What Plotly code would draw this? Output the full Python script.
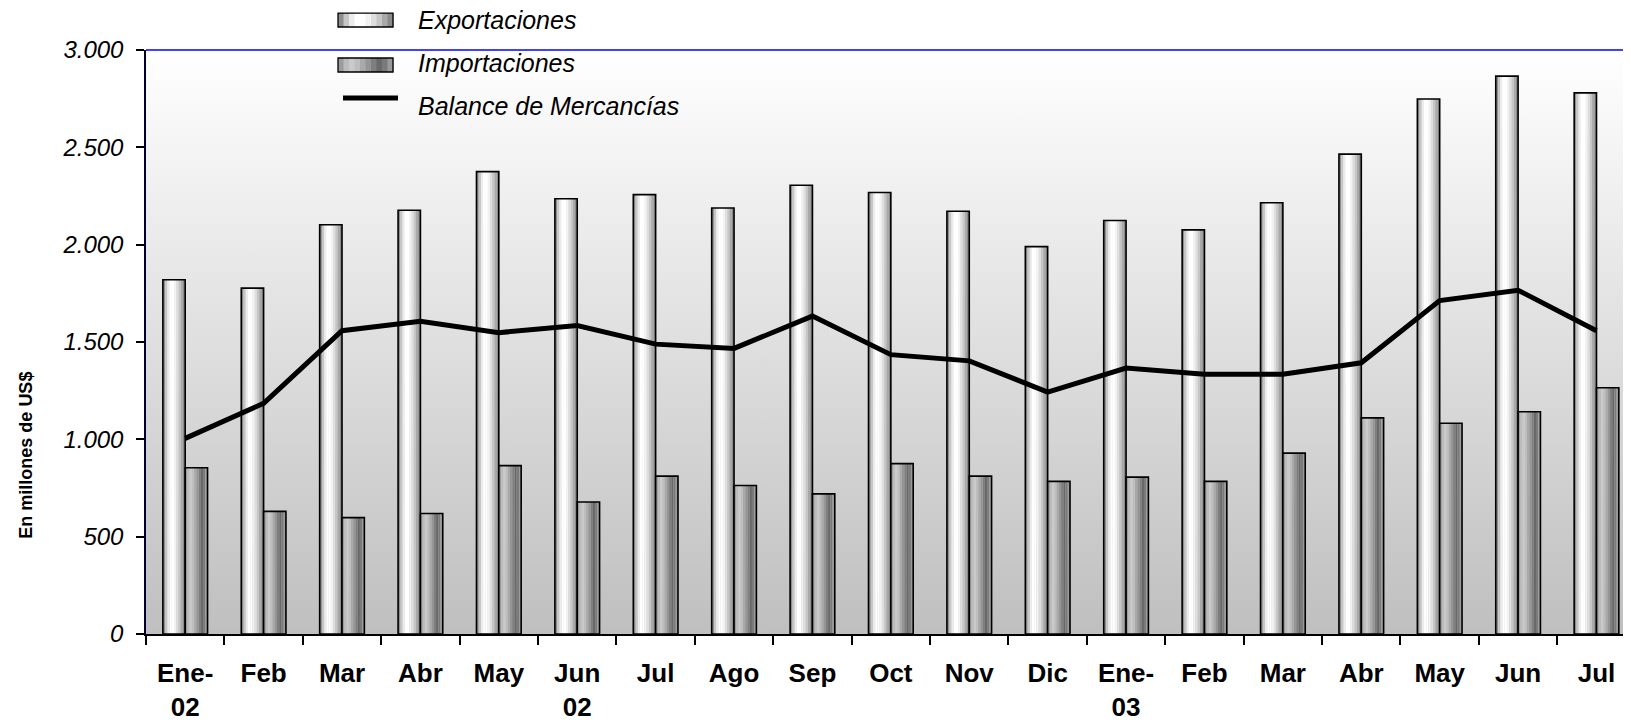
import base64

import plotly.graph_objects as go

# ---------------------------------------------------------------
# Data (millones de US$)
# ---------------------------------------------------------------
month_labels = [
    "Ene-<br>02", "Feb", "Mar", "Abr", "May", "Jun<br>02", "Jul", "Ago", "Sep",
    "Oct", "Nov", "Dic", "Ene-<br>03", "Feb", "Mar", "Abr", "May", "Jun", "Jul",
]
exportaciones = [
    1820, 1777, 2102, 2177, 2375, 2236, 2257, 2188, 2305, 2268,
    2172, 1990, 2124, 2076, 2215, 2465, 2748, 2866, 2780,
]
importaciones = [
    854, 630, 598, 619, 865, 678, 811, 763, 720, 875,
    811, 784, 806, 784, 929, 1110, 1083, 1142, 1265,
]
balance = [
    1005, 1185, 1558, 1606, 1548, 1585, 1489, 1467, 1633, 1435,
    1403, 1243, 1366, 1334, 1334, 1393, 1713, 1766, 1558,
]
series_names = ["Exportaciones", "Importaciones", "Balance de Mercancías"]

x_pos = list(range(len(month_labels)))

# ---------------------------------------------------------------
# Style / geometry (page pixels; the html body adds an 8px margin)
# ---------------------------------------------------------------
FONT = "Liberation Sans, Arial, sans-serif"
PAGE_W, PAGE_H, OFF = 1631, 720, 8
W, H = PAGE_W - OFF, PAGE_H - OFF
PLOT_L, PLOT_T, PLOT_B = 146, 50, 634.5
M_L, M_R, M_T, M_B = PLOT_L - OFF, 0, PLOT_T - OFF, PAGE_H - PLOT_B
BAR_W = 0.285

# cylinder-like shading, left -> right
exp_shades = ["#8e8e8e", "#c6c6c6", "#ececec", "#ffffff", "#ffffff",
              "#f2f2f2", "#dedede", "#c6c6c6", "#a9a9a9", "#8a8a8a"]
imp_shades = ["#9c9c9c", "#bcbcbc", "#cacaca", "#bebebe", "#a9a9a9",
              "#959595", "#7e7e7e", "#696969", "#7a7a7a", "#9a9a9a"]


def px_x(p):
    """page pixel -> paper x"""
    return (p - PLOT_L) / (PAGE_W - PLOT_L)


def px_y(p):
    """page pixel -> paper y"""
    return (PLOT_B - p) / (PLOT_B - PLOT_T)


def add_shaded_bars(fig, values, offset, shades):
    """Stack narrow strips to fake a cylinder gradient, then outline"""
    n = len(shades)
    w = BAR_W / n
    for k, c in enumerate(shades):
        fig.add_trace(
            go.Bar(
                x=x_pos, y=values, offset=offset + k * w, width=w * 1.02,
                marker=dict(color=c, line=dict(width=0)),
                showlegend=False, hoverinfo="skip",
            )
        )
    fig.add_trace(
        go.Bar(
            x=x_pos, y=values, offset=offset, width=BAR_W,
            marker=dict(color="rgba(0,0,0,0)", line=dict(color="black", width=1.6)),
            showlegend=False, hoverinfo="skip",
        )
    )


def swatch_shapes(x0, x1, y0, y1, shades):
    """Gradient legend swatch built from thin rects + outline"""
    out = []
    n = len(shades)
    step = (x1 - x0) / n
    for k, c in enumerate(shades):
        out.append(dict(type="rect", xref="paper", yref="paper",
                        x0=px_x(x0 + k * step), x1=px_x(x0 + (k + 1) * step + 0.5),
                        y0=px_y(y1), y1=px_y(y0), fillcolor=c, line=dict(width=0)))
    out.append(dict(type="rect", xref="paper", yref="paper",
                    x0=px_x(x0), x1=px_x(x1), y0=px_y(y1), y1=px_y(y0),
                    line=dict(color="black", width=1.3)))
    return out


fig = go.Figure()
add_shaded_bars(fig, exportaciones, -BAR_W, exp_shades)
add_shaded_bars(fig, importaciones, 0.0, imp_shades)

fig.add_trace(
    go.Scatter(
        x=x_pos, y=balance, mode="lines", name=series_names[2],
        line=dict(color="black", width=5),
        showlegend=False,
    )
)

# gradient plot background
svg = (
    '<svg xmlns="http://www.w3.org/2000/svg" viewBox="0 0 10 100" '
    'preserveAspectRatio="none" width="10" height="100">'
    '<defs><linearGradient id="g" x1="0" y1="0" x2="0" y2="1">'
    '<stop offset="0" stop-color="#ffffff"/>'
    '<stop offset="1" stop-color="#bfbfbf"/>'
    '</linearGradient></defs>'
    '<rect width="10" height="100" fill="url(#g)"/></svg>'
)
bg_src = "data:image/svg+xml;base64," + base64.b64encode(svg.encode()).decode()

# top border in blue (paper ref so it isn't clipped by the plot area)
shapes = [dict(type="line", xref="paper", yref="paper", x0=0, x1=1, y0=1, y1=1,
               line=dict(color="#4040ff", width=2))]
# hand-built legend (wide gradient swatches like the original)
shapes += swatch_shapes(338, 393, 13, 27, exp_shades)
shapes += swatch_shapes(338, 393, 58, 72, imp_shades)
shapes.append(dict(type="line", xref="paper", yref="paper",
                   x0=px_x(343), x1=px_x(398), y0=px_y(98), y1=px_y(98),
                   line=dict(color="black", width=5)))

annotations = [
    dict(text=name, xref="paper", yref="paper", x=px_x(416), y=px_y(cy),
         xanchor="left", yanchor="middle", showarrow=False,
         font=dict(family=FONT, size=25, style="italic", color="black"))
    for name, cy in zip(series_names, [20, 63, 106])
]
annotations.append(
    dict(text="En millones de US$", xref="paper", yref="paper",
         x=px_x(26), y=px_y(455), textangle=-90, showarrow=False,
         xanchor="center", yanchor="middle",
         font=dict(family=FONT, size=18, weight="bold", color="black"))
)

fig.update_layout(
    width=W,
    height=H,
    margin=dict(l=M_L, r=M_R, t=M_T, b=M_B),
    barmode="overlay",
    separators=",.",
    showlegend=False,
    paper_bgcolor="white",
    plot_bgcolor="rgba(0,0,0,0)",
    font=dict(family=FONT, color="black"),
    images=[dict(source=bg_src, xref="paper", yref="paper", x=0, y=1,
                 sizex=1, sizey=1, sizing="stretch", layer="below")],
    xaxis=dict(
        range=[-0.5, 18.44], automargin=False,
        tickvals=x_pos, ticktext=month_labels,
        ticks="outside", ticklen=15, tickcolor="rgba(0,0,0,0)",
        tickfont=dict(family=FONT, size=26, weight="bold"),
        minor=dict(tick0=-0.5, dtick=1, ticks="outside", ticklen=9,
                   tickwidth=1.5, tickcolor="black"),
        showgrid=False, zeroline=False,
        showline=True, linecolor="black", linewidth=2,
    ),
    yaxis=dict(
        range=[0, 3000], dtick=500, tickformat=",d", automargin=False,
        ticks="outside", ticklen=8, tickwidth=1.5, tickcolor="black",
        ticklabelstandoff=8,
        tickfont=dict(family=FONT, size=24, style="italic"),
        showgrid=False, zeroline=False,
        showline=True, linecolor="#000030", linewidth=1.5,
    ),
    shapes=shapes,
    annotations=annotations,
)

fig.write_html("out.html")
